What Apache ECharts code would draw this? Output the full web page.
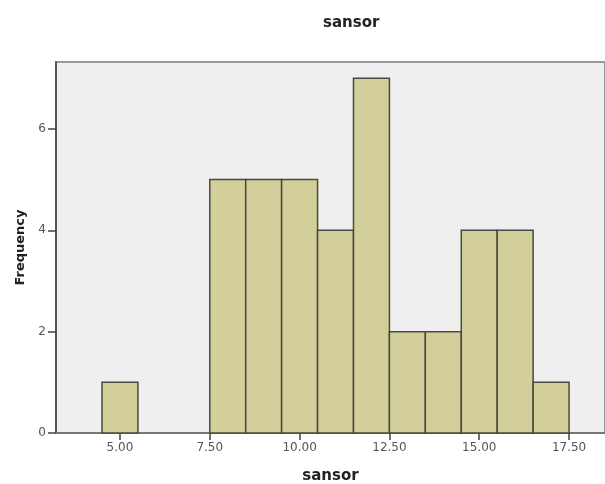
<!DOCTYPE html>
<html>
<head>
<meta charset="utf-8">
<script src="https://cdn.jsdelivr.net/npm/echarts@6/dist/echarts.min.js"></script>
<style>
  html, body { margin: 0; padding: 0; background: #fff; }
  #chart { width: 605px; height: 484px; }
</style>
</head>
<body>
<div id="chart"></div>
<script>
// histogram data (bin width 1)
const binCenters = [5, 8, 9, 10, 11, 12, 13, 14, 15, 16, 17]
const frequency = [1, 5, 5, 5, 4, 7, 2, 2, 4, 4, 1]
const binWidth = 1
const xTicks = [5, 7.5, 10, 12.5, 15, 17.5]
const yTicks = [0, 2, 4, 6]

const chart = echarts.init(document.getElementById('chart'))

const bars = binCenters.map((c, i) => [c - binWidth / 2, c + binWidth / 2, frequency[i]])

const font = '"DejaVu Sans", Verdana, sans-serif'

const option = {
  animation: false,
  title: {
    text: 'sansor',
    left: 318,
    top: 11,
    textStyle: { fontFamily: font, fontSize: 15, fontWeight: 'bold', color: '#222' }
  },
  grid: {
    left: 56,
    top: 62,
    right: 0,
    bottom: 51,
    outerBoundsMode: 'none',
    containLabel: false,
    show: true,
    backgroundColor: '#efefef',
    borderColor: '#999',
    borderWidth: 2
  },
  xAxis: {
    type: 'value',
    min: 3.22,
    max: 18.5,
    name: 'sansor',
    nameLocation: 'middle',
    nameGap: 36,
    nameTextStyle: { fontFamily: font, fontSize: 15, fontWeight: 'bold', color: '#222' },
    axisLine: { lineStyle: { color: '#777', width: 2 } },
    axisTick: { show: true, length: 7, customValues: xTicks, lineStyle: { color: '#444', width: 1.5 } },
    axisLabel: {
      customValues: xTicks,
      formatter: v => v.toFixed(2),
      color: '#555',
      fontFamily: font,
      fontSize: 12,
      margin: 9
    },
    splitLine: { show: false }
  },
  yAxis: {
    type: 'value',
    min: 0,
    max: 7.32,
    name: 'Frequency',
    nameLocation: 'middle',
    nameGap: 28,
    nameTextStyle: { fontFamily: font, fontSize: 13, fontWeight: 'bold', color: '#222' },
    axisLine: { show: true, lineStyle: { color: '#555', width: 2 } },
    axisTick: { show: true, length: 8, customValues: yTicks, lineStyle: { color: '#444', width: 1.5 } },
    axisLabel: {
      customValues: yTicks,
      color: '#555',
      fontFamily: font,
      fontSize: 12,
      margin: 10
    },
    splitLine: { show: false }
  },
  series: [
    {
      type: 'custom',
      data: bars,
      encode: { x: [0, 1], y: 2 },
      renderItem: (params, api) => {
        const p0 = api.coord([api.value(0), api.value(2)])
        const p1 = api.coord([api.value(1), 0])
        return {
          type: 'rect',
          shape: { x: p0[0], y: p0[1], width: p1[0] - p0[0], height: p1[1] - p0[1] },
          style: { fill: '#d3cf9a', stroke: '#4a4a3c', lineWidth: 1.5 }
        }
      }
    }
  ]
}

chart.setOption(option)
</script>
</body>
</html>
